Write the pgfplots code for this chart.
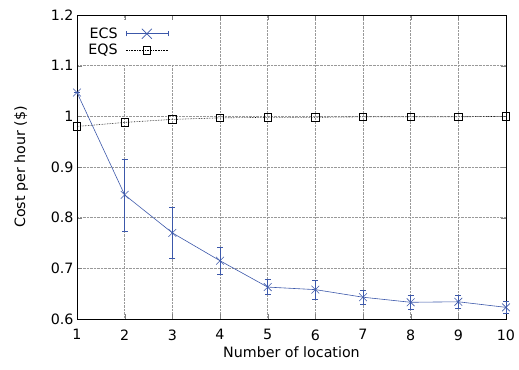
\documentclass[border=0pt]{standalone}
\usepackage{fontspec}
\setmainfont{DejaVu Sans}
\usepackage{pgfplots}
\pgfplotsset{compat=1.18}
\definecolor{ecsblue}{RGB}{60,88,170}
\begin{document}
\begin{tikzpicture}
\begin{axis}[
  name=ax,
  scale only axis,
  width=429bp, height=304bp,
  xmin=1, xmax=10, ymin=0.6, ymax=1.2,
  xtick={1,...,10},
  ytick={0.6,0.7,...,1.2},
  /pgf/number format/assume math mode=true,
  tick align=inside,
  major tick length=5bp,
  grid=major,
  major grid style={densely dotted, gray!80, line width=0.5pt},
  axis line style={line width=0.8pt},
  xlabel={Number of location},
  ylabel={Cost per hour (\$)},
  xticklabel style={yshift=-7bp},
  ylabel style={yshift=16bp},
  tick label style={font=\fontsize{14.3}{16}\selectfont},
  label style={font=\fontsize{14.3}{16}\selectfont},
  legend style={at={(0.012,0.985)}, anchor=north west, draw=none, fill=white,
    font=\fontsize{14.3}{16}\selectfont, row sep=0.5pt, inner xsep=4pt, inner ysep=6pt},
  legend plot pos=right,
  legend cell align=right,
  clip=false,
]
\addplot[color=ecsblue, line width=0.6pt, mark=x, mark size=5.5pt,
  error bars/.cd, y dir=both, y explicit, error bar style={line width=0.7pt},
  error mark options={rotate=90, mark size=3bp, line width=0.6pt},
  /pgfplots/legend image code/.code={
  \path (0bp,0bp) (56bp,0bp);
  \draw[ecsblue, line width=0.6pt] (6bp,0bp) -- (48bp,0bp);
  \draw[ecsblue, line width=0.6pt] (6bp,-2.5bp) -- (6bp,2.5bp);
  \draw[ecsblue, line width=0.6pt] (48bp,-2.5bp) -- (48bp,2.5bp);
  \draw[ecsblue, line width=0.6pt] (22bp,-5bp) -- (32bp,5bp);
  \draw[ecsblue, line width=0.6pt] (22bp,5bp) -- (32bp,-5bp);
  }]
  coordinates {
  (1,1.047) +- (0,0.0)
  (2,0.845) +- (0,0.071)
  (3,0.770) +- (0,0.050)
  (4,0.715) +- (0,0.026)
  (5,0.663) +- (0,0.015)
  (6,0.658) +- (0,0.019)
  (7,0.643) +- (0,0.013)
  (8,0.633) +- (0,0.013)
  (9,0.634) +- (0,0.012)
  (10,0.623) +- (0,0.011)
  };
\addlegendentry{ECS}
\addplot[black, densely dotted, line width=0.6pt, mark=square, mark size=3.8pt, mark options={solid, line width=0.6pt},
  legend image code/.code={
  \path (0bp,0bp) (56bp,0bp);
  \draw[black, densely dotted, line width=0.6pt] (6bp,0bp) -- (48bp,0bp);
  \draw[black, solid, line width=0.6pt] (23.2bp,-3.8bp) rectangle (30.8bp,3.8bp);
  }]
  coordinates {
  (1,0.980) (2,0.988) (3,0.994) (4,0.997) (5,0.998)
  (6,0.998) (7,0.999) (8,0.999) (9,0.999) (10,1.000)
  };
\addlegendentry{EQS}
\end{axis}
\path ([shift={(-77bp,-50bp)}]ax.south west) rectangle ([shift={(13bp,15bp)}]ax.north east);
\end{tikzpicture}
\end{document}
